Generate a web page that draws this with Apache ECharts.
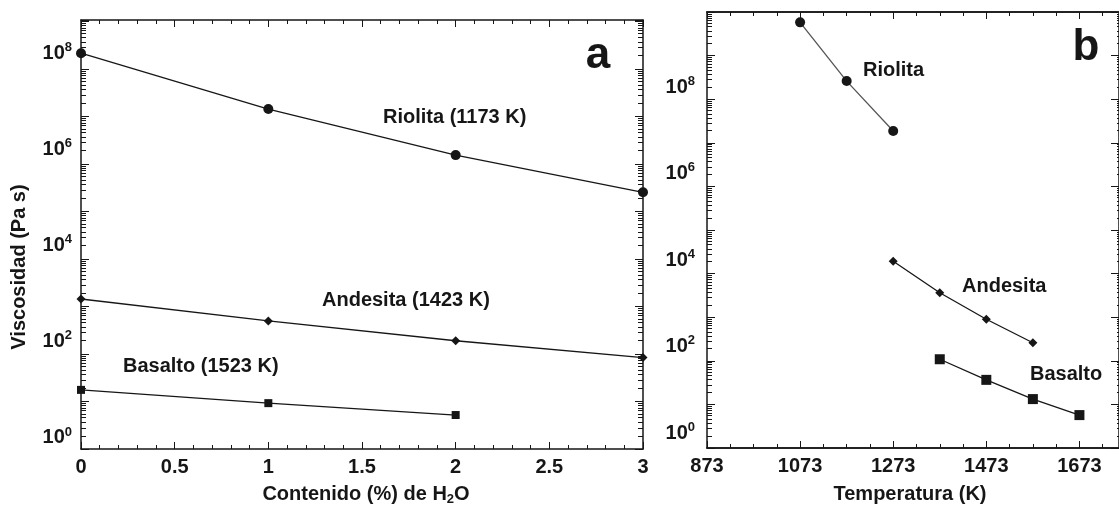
<!DOCTYPE html>
<html>
<head>
<meta charset="utf-8">
<script src="https://cdn.jsdelivr.net/npm/echarts@6/dist/echarts.min.js"></script>
<style>
  html, body { margin: 0; padding: 0; background: #fff; }
  #chart { width: 1119px; height: 509px; }
</style>
</head>
<body>
<div id="chart"></div>
<script>
// panel a: viscosity (Pa s) vs water content (%)
const waterContent = [0, 1, 2, 3];
const riolitaWater = [1.0e8, 6.9e6, 7.6e5, 1.28e5];
const andesitaWater = [776, 271, 105, 47];
const basaltoWater = [10, 5.3, 3.0];

// panel b: viscosity (Pa s) vs temperature (K)
const riolitaTemp = [1073, 1173, 1273];
const riolitaVisc = [3.2e9, 1.4e8, 9.8e6];
const andesitaTemp = [1273, 1373, 1473, 1573];
const andesitaVisc = [9500, 1770, 430, 123];
const basaltoTemp = [1373, 1473, 1573, 1673];
const basaltoVisc = [51, 17, 6.1, 2.6];

// y labels only on even powers of ten
const labelExponents = [0, 2, 4, 6, 8];

const FONT = 'Liberation Sans, Arial, sans-serif';
const INK = '#161616';

const zip = (xs, ys) => ys.map((y, i) => [xs[i], y]);

function powLabel(v) {
  const lg = Math.log10(v);
  const e = Math.round(lg);
  if (Math.abs(lg - e) > 1e-6) return '';
  return labelExponents.includes(e) ? '10{sup|' + e + '}' : '';
}

const labelStyle = {
  color: INK, fontSize: 20, fontWeight: 'bold', fontFamily: FONT
};

// log axis that carries the labels and the data
// base 100 so the auto ticks land on the even powers of ten
function dataY(grid, min, max, margin) {
  return {
    type: 'log', logBase: 100, gridIndex: grid, position: 'left',
    min: min, max: max, splitNumber: 10,
    axisLine: { show: true, lineStyle: { color: INK, width: 1.5 } },
    axisTick: { show: false },
    minorTick: { show: false },
    splitLine: { show: false },
    axisLabel: Object.assign({}, labelStyle, {
      margin: margin, showMinLabel: false, showMaxLabel: false,
      formatter: powLabel,
      rich: { sup: { fontSize: 13, fontWeight: 'bold', fontFamily: FONT, color: INK, padding: [0, 0, 12, 0] } }
    })
  };
}

// log axis used only to draw the tick marks (they sit offset from the labels in the original)
function tickY(grid, pos, max, minorLen) {
  return {
    type: 'log', logBase: 10, gridIndex: grid, position: pos,
    min: 1, max: max, interval: 1, splitNumber: 10,
    axisLine: { show: pos === 'right', onZero: false, lineStyle: { color: INK, width: 1.5 } },
    axisTick: { show: true, inside: true, length: 8, lineStyle: { color: INK, width: 1 } },
    minorTick: { show: true, splitNumber: 10, length: minorLen, lineStyle: { color: INK, width: 1 } },
    splitLine: { show: false },
    axisLabel: { show: false }
  };
}

function xAxis(grid, pos, min, max, interval, labels, tickLen, minorSplit) {
  return {
    type: 'value', gridIndex: grid, position: pos,
    min: min, max: max, interval: interval,
    axisLine: { show: true, onZero: false, lineStyle: { color: INK, width: 1.5 } },
    axisTick: { show: true, inside: true, length: tickLen, lineStyle: { color: INK, width: 1 } },
    minorTick: { show: !!minorSplit, splitNumber: minorSplit || 5, length: 4, lineStyle: { color: INK, width: 1 } },
    splitLine: { show: false },
    axisLabel: labels ? Object.assign({}, labelStyle, {
      margin: 8, showMaxLabel: grid === 0,
      formatter: v => String(v)
    }) : { show: false }
  };
}

function line(name, data, xi, yi, symbol, size, color) {
  return {
    name: name, type: 'line', xAxisIndex: xi, yAxisIndex: yi,
    data: data, symbol: symbol, symbolSize: size, clip: false,
    lineStyle: { color: color || INK, width: 1.3 },
    itemStyle: { color: INK },
    emphasis: { disabled: true }, z: 5
  };
}

function note(text, x, y, align, size) {
  return {
    type: 'text', x: x, y: y, z: 10,
    style: {
      text: text, fill: INK, fontSize: size || 20, fontWeight: 'bold', fontFamily: FONT,
      align: align || 'left', verticalAlign: 'middle'
    }
  };
}

const chart = echarts.init(document.getElementById('chart'));

const option = {
  backgroundColor: '#fff',
  animation: false,
  grid: [
    { left: 81, top: 20, width: 562, height: 429 },
    { left: 707, top: 12, width: 414, height: 436 }
  ],
  xAxis: [
    xAxis(0, 'bottom', 0, 3, 0.5, true, 7, 5),
    xAxis(0, 'top', 0, 3, 0.5, false, 7, 5),
    xAxis(1, 'bottom', 873, 1758, 200, true, 7, 0),
    xAxis(1, 'bottom', 873, 1758, 50, false, 4, 0),
    xAxis(1, 'top', 873, 1758, 200, false, 7, 0),
    xAxis(1, 'top', 873, 1758, 50, false, 4, 0)
  ],
  yAxis: [
    dataY(0, 0.59, 4.9e8, 9),
    tickY(0, 'left', 1.07e9, 5),
    tickY(0, 'right', 1.07e9, 5),
    dataY(1, 0.45, 5.56e9, 12),
    tickY(1, 'left', 1e10, 5),
    tickY(1, 'right', 1e10, 2)
  ],
  series: [
    line('Riolita (1173 K)', zip(waterContent, riolitaWater), 0, 0, 'circle', 10),
    line('Andesita (1423 K)', zip(waterContent, andesitaWater), 0, 0, 'diamond', 9),
    line('Basalto (1523 K)', zip(waterContent, basaltoWater), 0, 0, 'rect', 8),
    line('Riolita', zip(riolitaTemp, riolitaVisc), 2, 3, 'circle', 10, '#555'),
    line('Andesita', zip(andesitaTemp, andesitaVisc), 2, 3, 'diamond', 9),
    line('Basalto', zip(basaltoTemp, basaltoVisc), 2, 3, 'rect', 10)
  ],
  graphic: [
    note('Riolita (1173 K)', 383, 117),
    note('Andesita (1423 K)', 322, 300),
    note('Basalto (1523 K)', 123, 366),
    note('Riolita', 863, 70),
    note('Andesita', 962, 286),
    note('Basalto', 1030, 374),
    note('a', 598, 56, 'center', 44),
    note('b', 1086, 48, 'center', 44),
    {
      type: 'text', x: 19, y: 267, rotation: Math.PI / 2, z: 10,
      style: {
        text: 'Viscosidad (Pa s)', fill: INK, fontSize: 20, fontWeight: 'bold', fontFamily: FONT,
        align: 'center', verticalAlign: 'middle'
      }
    },
    {
      type: 'text', x: 366, y: 494, z: 10,
      style: {
        text: 'Contenido (%) de H{sub|2}O', fill: INK, fontSize: 20, fontWeight: 'bold', fontFamily: FONT,
        align: 'center', verticalAlign: 'middle',
        rich: { sub: { fontSize: 13, fontWeight: 'bold', fontFamily: FONT, fill: INK, padding: [10, 0, 0, 0] } }
      }
    },
    note('Temperatura (K)', 910, 494, 'center')
  ]
};

chart.setOption(option);
</script>
</body>
</html>
